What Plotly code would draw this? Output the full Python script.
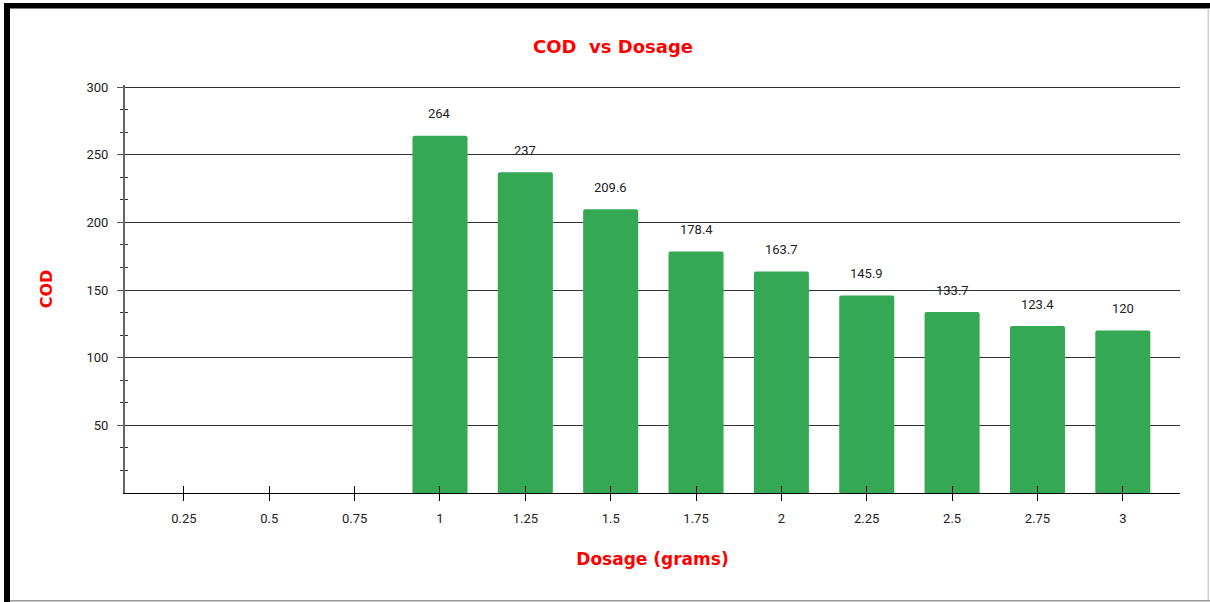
import plotly.graph_objects as go

# Dosage categories (grams) and measured COD values; no reading for the first three doses
dosage = ["0.25", "0.5", "0.75", "1", "1.25", "1.5", "1.75", "2", "2.25", "2.5", "2.75", "3"]
cod = [None, None, None, 264, 237, 209.6, 178.4, 163.7, 145.9, 133.7, 123.4, 120]
value_labels = ["", "", "", "264", "237", "209.6", "178.4", "163.7", "145.9", "133.7", "123.4", "120"]

BAR_GREEN = "#34a853"
RED = "#ff0000"
TEXT = "#222222"
TITLE_FONT = dict(family="DejaVu Sans", size=17, color=RED, weight="bold")
TICK_FONT = dict(family="Roboto, Arial", size=13, color=TEXT)

W, H = 1210, 602
L, R, T, B = 125, 30, 85, 109
plot_w, plot_h = W - L - R, H - T - B
x_range = [-0.69, 11.67]
# a little headroom above 300 so its gridline is kept
y_range = [0, 301.5]

fig = go.Figure()
fig.add_trace(go.Bar(
    x=dosage, y=cod, width=0.645,
    marker=dict(color=BAR_GREEN, line=dict(width=0)),
    hoverinfo="x+y", showlegend=False,
))
# invisible companion trace so the overlay axes (crossing ticks) are drawn
fig.add_trace(go.Scatter(
    x=dosage, y=cod, xaxis="x2", yaxis="y2", mode="markers",
    marker=dict(opacity=0), hoverinfo="skip", showlegend=False,
))

# value labels above each bar (category index used so numeric-looking names are not misread)
for i, (v, lab) in enumerate(zip(cod, value_labels)):
    if v is None:
        continue
    fig.add_annotation(x=i, y=v, text=lab, showarrow=False, yanchor="middle",
                       yshift=22, font=dict(family="Roboto, Arial", size=13, color=TEXT))

# page frame: heavy top/left edges, light right/bottom edges
def px(xp):
    return (xp - L) / plot_w

def py(yp):
    return (H - B - yp) / plot_h

frame = [
    dict(x0=px(4), x1=px(10), y0=py(602), y1=py(3), color="#000000"),
    dict(x0=px(4), x1=px(1210), y0=py(8.5), y1=py(3), color="#000000"),
    dict(x0=px(1207.5), x1=px(1209), y0=py(600), y1=py(8.5), color="#d0d0d0"),
    dict(x0=px(10), x1=px(1210), y0=py(601.5), y1=py(600), color="#9a9a9a"),
]
for f in frame:
    fig.add_shape(type="rect", xref="paper", yref="paper", x0=f["x0"], x1=f["x1"],
                  y0=f["y0"], y1=f["y1"], fillcolor=f["color"], line=dict(width=0),
                  layer="above")

fig.update_layout(
    width=W, height=H,
    margin=dict(l=L, r=R, t=T, b=B, autoexpand=False),
    paper_bgcolor="white", plot_bgcolor="white",
    barcornerradius=2,
    title=dict(text="COD\u00a0 vs Dosage", x=613 / W, xanchor="center",
               y=1 - 47 / H, yanchor="middle", font=dict(TITLE_FONT, size=18)),
    xaxis=dict(
        type="category", categoryorder="array", categoryarray=dosage, range=x_range,
        showgrid=False, zeroline=False, showline=True, linecolor="#000000", linewidth=1,
        ticks="outside", ticklen=7, tickwidth=1, tickcolor="#000000",
        tickfont=TICK_FONT, ticklabelstandoff=6,
        title=dict(text="Dosage (grams)", font=TITLE_FONT, standoff=28),
    ),
    yaxis=dict(
        range=y_range, tickvals=[50, 100, 150, 200, 250, 300],
        showgrid=True, gridcolor="#333333", gridwidth=1, zeroline=False,
        showline=True, linecolor="#666666", linewidth=2,
        ticks="outside", ticklen=6, tickwidth=1, tickcolor="#555555",
        minor=dict(ticks="outside", ticklen=3, tickwidth=1, tickcolor="#333333",
                   tickvals=[50 / 3 * k for k in range(18) if k % 3], showgrid=False),
        tickfont=TICK_FONT, ticklabelstandoff=6,
        title=dict(text="COD", font=dict(TITLE_FONT, size=16), standoff=30),
    ),
    xaxis2=dict(
        type="category", categoryorder="array", categoryarray=dosage, range=x_range,
        overlaying="x", side="bottom", showgrid=False, zeroline=False, showline=False,
        ticks="inside", ticklen=7, tickwidth=1, tickcolor="#000000", showticklabels=False,
    ),
    yaxis2=dict(
        range=y_range, overlaying="y", side="left", showgrid=False, zeroline=False,
        showline=False, ticks="", showticklabels=False,
        minor=dict(ticks="inside", ticklen=3, tickwidth=1, tickcolor="#333333",
                   tickvals=[50 / 3 * k for k in range(18) if k % 3], showgrid=False),
    ),
)

fig.write_html("out.html")
